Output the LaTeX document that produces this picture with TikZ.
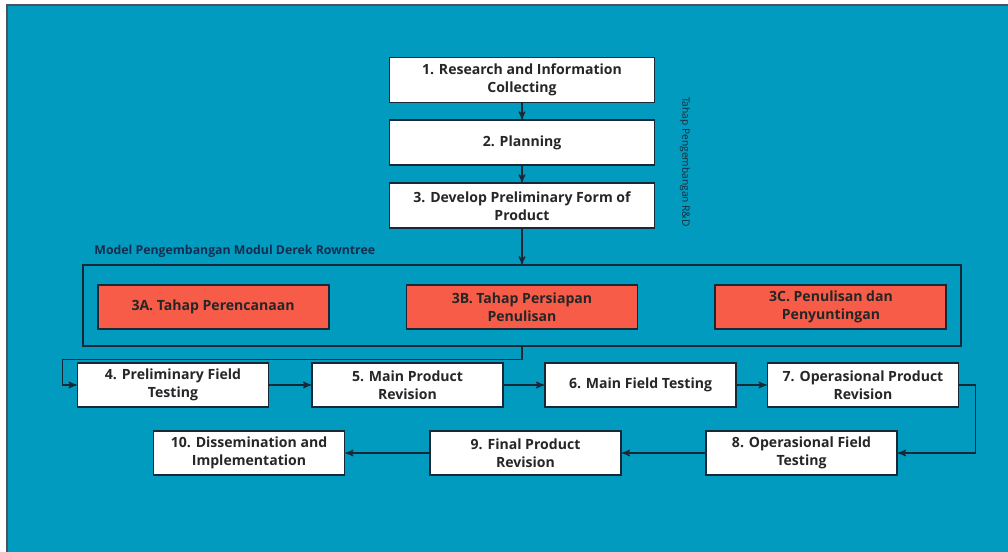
\documentclass[tikz,border=0pt]{standalone}
\usepackage{fontspec}
\setmainfont{Open Sans}
\usepackage{xcolor}
\usetikzlibrary{arrows,calc,positioning}
\definecolor{bgteal}{RGB}{0,155,190}
\definecolor{stepred}{RGB}{246,92,72}
\definecolor{linedark}{RGB}{25,40,55}
\definecolor{labelblue}{RGB}{20,45,80}

\begin{document}
\begin{tikzpicture}[->,>=stealth',shorten >=0pt,line width=0.7pt,draw=linedark,node distance=0.32cm]
\tikzstyle{rdbox}=[rectangle,draw=linedark,line width=1.1pt,fill=white,text=black!85,font=\fontsize{8}{10.2}\selectfont\bfseries,align=center,minimum width=5.3cm,minimum height=0.9cm,inner sep=0pt]
\tikzstyle{testbox}=[rdbox,minimum width=3.82cm,minimum height=0.88cm]
\tikzstyle{redbox}=[rdbox,fill=stepred,minimum width=4.62cm,minimum height=0.88cm]

% background
\useasboundingbox (0,0) rectangle (20.16,-11.04);
\fill[white] (0,0) rectangle (20.16,-11.04);
\fill[bgteal] (0.14,-0.10) rectangle (20.16,-11.04);
\draw[-,linedark!80] (0.14,-11.04) -- (0.14,-0.10) -- (20.16,-0.10);

\node[rdbox] (research) at (10.44,-1.60) {1. Research and Information\\Collecting};
\node[rdbox] (planning) [below=of research] {2. Planning};
\node[rdbox] (develop) [below=of planning] {3. Develop Preliminary Form of\\Product};
\node[rotate=-90,font=\fontsize{5.8}{6}\selectfont,text=linedark] (rdlabel) at (13.7,-3.24) {Tahap Pengembangan R\&D};

\node[draw=linedark,line width=1.1pt,minimum width=17.56cm,minimum height=1.62cm] (rowntree) [below=0.7cm of develop] {};
\node[font=\fontsize{7}{8}\selectfont\bfseries,text=labelblue,anchor=south west,inner sep=1pt] (modellabel) at ($(rowntree.north west)+(0.2,0.1)$) {Model Pengembangan Modul Derek Rowntree};

\node[redbox] (prepare) at ($(rowntree.center)+(0,-0.03)$) {3B. Tahap Persiapan\\Penulisan};
\node[redbox] (plan) [left=1.52cm of prepare] {3A. Tahap Perencanaan};
\node[redbox] (write) [right=1.52cm of prepare] {3C. Penulisan dan\\Penyuntingan};

\node[testbox] (prelim) at (3.46,-7.70) {4. Preliminary Field\\Testing};
\node[testbox] (mainrev) at (8.15,-7.70) {5. Main Product\\Revision};
\node[testbox] (mainfield) at (12.81,-7.70) {6. Main Field Testing};
\node[testbox] (oprev) at (17.26,-7.70) {7. Operasional Product\\Revision};

\node[testbox] (opfield) at (16.03,-9.06) {8. Operasional Field\\Testing};
\node[testbox] (finalrev) at (10.51,-9.06) {9. Final Product\\Revision};
\node[testbox] (dissem) at (4.98,-9.06) {10. Dissemination and\\Implementation};

\path
	(research) edge (planning)
	(planning) edge (develop)
	(develop) edge (rowntree)
	(prelim) edge (mainrev)
	(mainrev) edge (mainfield)
	(mainfield) edge (oprev)
	(opfield) edge (finalrev)
	(finalrev) edge (dissem);
\draw (rowntree.south) -- ++(0,-0.24) -| ($(prelim.west)+(-0.28,0)$) -- (prelim.west);
\draw (oprev.east) -- ++(0.32,0) |- (opfield.east);
\end{tikzpicture}
\end{document}
